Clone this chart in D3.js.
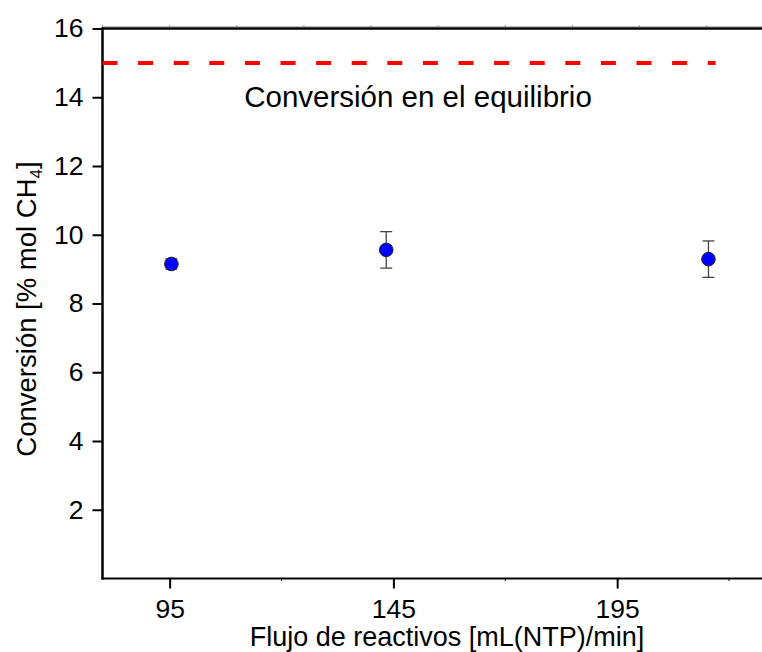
<!DOCTYPE html>
<html>
<head>
<meta charset="utf-8">
<script src="https://cdn.jsdelivr.net/npm/d3@7"></script>
<style>
body{margin:0;background:#fff}
svg{display:block;font-family:"Liberation Sans",Arial,sans-serif}
</style>
</head>
<body>
<div id="chart"></div>
<script>
// flujo de reactivos [mL(NTP)/min]
const flujo=[95.4,143.4,215.4]
const conversion=[9.15,9.56,9.29]
const errores=[0.15,0.53,0.53]

const equilibrio=15
const equilibrioX=[80,217]

const xMajor=[95,145,195]
const xMinor=[120,170,220]
const yTicks=[2,4,6,8,10,12,14,16]
const topTicks=[80,95,110,125,140,155,170,185,200,215]

const width=762
const height=652

const svg=d3.select("#chart")
.append("svg")
.attr("width",width)
.attr("height",height)

const x=d3.scaleLinear().domain([80,230]).range([102.5,773.8])
const y=d3.scaleLinear().domain([0,16]).range([578.5,28.5])

// eje superior gris tenue
svg.append("line")
.attr("x1",x(80)).attr("x2",width)
.attr("y1",26.5).attr("y2",26.5)
.attr("stroke","#bbb").attr("stroke-width",1)

svg.append("g")
.selectAll("line")
.data(topTicks)
.enter()
.append("line")
.attr("x1",d=>x(d)).attr("x2",d=>x(d))
.attr("y1",25).attr("y2",27)
.attr("stroke","#999").attr("stroke-width",1)

// marco superior
svg.append("line")
.attr("x1",x(80)-1).attr("x2",width)
.attr("y1",28.5).attr("y2",28.5)
.attr("stroke","#000").attr("stroke-width",2.5)

// eje x
const xAxis=d3.axisBottom(x)
.tickValues(xMajor)
.tickSize(10)
.tickPadding(11)
.tickFormat(d3.format("d"))

const gx=svg.append("g")
.attr("transform",`translate(0,${y(0)})`)
.call(xAxis)

gx.select(".domain").remove()
gx.selectAll(".tick line").attr("stroke","#000").attr("stroke-width",2)
gx.selectAll(".tick text")
.attr("font-size",26.5)
.attr("fill","#000")
.attr("font-family","Liberation Sans, Arial, sans-serif")

svg.append("g")
.selectAll("line")
.data(xMinor)
.enter()
.append("line")
.attr("x1",d=>x(d)).attr("x2",d=>x(d))
.attr("y1",y(0)).attr("y2",y(0)+2.5)
.attr("stroke","#000").attr("stroke-width",1)

svg.append("line")
.attr("x1",x(80)-1).attr("x2",width)
.attr("y1",y(0)).attr("y2",y(0))
.attr("stroke","#000").attr("stroke-width",2)

// eje y
const yAxis=d3.axisLeft(y)
.tickValues(yTicks)
.tickSize(10)
.tickPadding(9)
.tickFormat(d3.format("d"))

const gy=svg.append("g")
.attr("transform",`translate(${x(80)},0)`)
.call(yAxis)

gy.select(".domain").remove()
gy.selectAll(".tick line").attr("stroke","#000").attr("stroke-width",2)
gy.selectAll(".tick text")
.attr("font-size",26.5)
.attr("fill","#000")
.attr("font-family","Liberation Sans, Arial, sans-serif")

svg.append("line")
.attr("x1",x(80)).attr("x2",x(80))
.attr("y1",y(16)-1).attr("y2",y(0)+1)
.attr("stroke","#000").attr("stroke-width",2.5)

// linea de equilibrio
svg.append("line")
.attr("x1",x(equilibrioX[0])).attr("x2",x(equilibrioX[1]))
.attr("y1",y(equilibrio)).attr("y2",y(equilibrio))
.attr("stroke","#ff0000")
.attr("stroke-width",4)
.attr("stroke-dasharray","15,20.6")

svg.append("text")
.attr("x",418)
.attr("y",107)
.attr("text-anchor","middle")
.attr("font-size",29.5)
.attr("fill","#000")
.text("Conversión en el equilibrio")

// barras de error
const puntos=flujo.map((f,i)=>({f:f,c:conversion[i],e:errores[i]}))

const err=svg.append("g")
.attr("stroke","#444")
.attr("stroke-width",1.3)

err.selectAll(".v")
.data(puntos)
.enter()
.append("line")
.attr("x1",d=>x(d.f)).attr("x2",d=>x(d.f))
.attr("y1",d=>y(d.c-d.e)).attr("y2",d=>y(d.c+d.e))

err.selectAll(".top")
.data(puntos)
.enter()
.append("line")
.attr("x1",d=>x(d.f)-6).attr("x2",d=>x(d.f)+6)
.attr("y1",d=>y(d.c+d.e)).attr("y2",d=>y(d.c+d.e))

err.selectAll(".bot")
.data(puntos)
.enter()
.append("line")
.attr("x1",d=>x(d.f)-6).attr("x2",d=>x(d.f)+6)
.attr("y1",d=>y(d.c-d.e)).attr("y2",d=>y(d.c-d.e))

svg.append("g")
.selectAll("circle")
.data(puntos)
.enter()
.append("circle")
.attr("cx",d=>x(d.f))
.attr("cy",d=>y(d.c))
.attr("r",6.8)
.attr("fill","#0000ff")
.attr("stroke","#222")
.attr("stroke-width",1)

// titulos de ejes
svg.append("text")
.attr("x",447)
.attr("y",646)
.attr("text-anchor","middle")
.attr("font-size",27)
.attr("fill","#000")
.text("Flujo de reactivos [mL(NTP)/min]")

const yt=svg.append("text")
.attr("transform","translate(36,309) rotate(-90)")
.attr("text-anchor","middle")
.attr("font-size",27.5)
.attr("fill","#000")

yt.append("tspan").text("Conversión [% mol CH")
yt.append("tspan").attr("font-size",17).attr("dy",6).text("4")
yt.append("tspan").attr("dy",-6).text("]")
</script>
</body>
</html>
